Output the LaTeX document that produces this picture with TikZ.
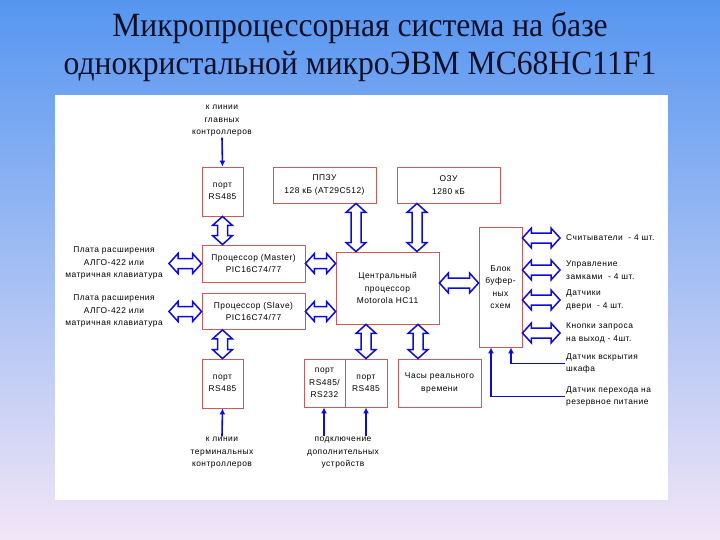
\documentclass[tikz,border=0pt]{standalone}
\usepackage{fontspec}
\setmainfont{Liberation Serif}
\newfontfamily\labfont[LetterSpace=6]{Liberation Sans}
\usetikzlibrary{calc,arrows.meta}
\definecolor{bgtop}{RGB}{86,150,240}
\definecolor{bgmid}{RGB}{160,190,243}
\definecolor{bgbot}{RGB}{242,230,246}
\definecolor{arrblue}{RGB}{12,12,215}
\definecolor{boxred}{RGB}{205,90,90}
\definecolor{titlecol}{RGB}{15,15,40}
\begin{document}
\begin{tikzpicture}[x=1pt,y=-1pt,
  lf/.style={font=\labfont\fontsize{8.4}{12.4}\selectfont},
  box/.style={lf, draw=boxred, line width=0.9pt, fill=white, inner sep=1pt, align=center},
  lab/.style={lf, align=center, inner sep=1pt},
  rlab/.style={lf, align=left, anchor=west, inner sep=1pt},
  ttl/.style={font=\fontsize{34}{40}\selectfont, text=titlecol, inner sep=0, anchor=base, xscale=0.93},
  sarrow/.style={draw=arrblue, line width=1.6pt, -{Latex[length=6pt,width=6pt]}},
  fat/.style={draw=arrblue, fill=white, line width=1.5pt, line join=miter,
    to path={let \p1=(\tikztostart), \p2=(\tikztotarget) in
      (\p1) -- ($(\p1)!9pt!(\p2)!10pt!90:(\p2)$) -- ($(\p1)!9pt!(\p2)!5pt!90:(\p2)$)
      -- ($(\p2)!9pt!(\p1)!5pt!-90:(\p1)$) -- ($(\p2)!9pt!(\p1)!10pt!-90:(\p1)$)
      -- (\p2)
      -- ($(\p2)!9pt!(\p1)!10pt!90:(\p1)$) -- ($(\p2)!9pt!(\p1)!5pt!90:(\p1)$)
      -- ($(\p1)!9pt!(\p2)!5pt!-90:(\p2)$) -- ($(\p1)!9pt!(\p2)!10pt!-90:(\p2)$) -- cycle}}]
\useasboundingbox (0,0) rectangle (720,540);
\shade[top color=bgtop, middle color=bgmid, bottom color=bgbot] (0,0) rectangle (720,540);
\fill[white] (55,95) rectangle (668,500);
% title
\node[ttl] (t1) at (360,37) {Микропроцессорная система на базе};
\node[ttl] (t2) at (360,75) {однокристальной микроЭВМ MC68HC11F1};
% boxes
\node[box, minimum width=41pt, minimum height=49pt] (portTop) at (222.5,191.5) {порт\\RS485};
\node[box, minimum width=103pt, minimum height=36pt] (ppzu) at (324.5,185) {ППЗУ\\128 кБ (AT29C512)};
\node[box, minimum width=103pt, minimum height=36pt] (ozu) at (448.5,185) {ОЗУ\\1280 кБ};
\node[box, minimum width=103pt, minimum height=37pt] (master) at (253.5,263.5) {Процессор (Master)\\PIC16C74/77};
\node[box, minimum width=103pt, minimum height=36pt] (slave) at (253.5,311.5) {Процессор (Slave)\\PIC16C74/77};
\node[box, minimum width=103pt, minimum height=72pt] (cpu) at (387.5,288) {Центральный\\процессор\\Motorola HC11};
\node[box, minimum width=43pt, minimum height=120pt] (buf) at (500.5,287) {Блок\\буфер-\\ных\\схем};
\node[box, minimum width=41pt, minimum height=49pt] (portBot) at (222.5,383.5) {порт\\RS485};
\node[box, minimum width=41pt, minimum height=48pt] (port2) at (324.5,383) {порт\\RS485/\\RS232};
\node[box, minimum width=42pt, minimum height=48pt] (port3) at (366,383) {порт\\RS485};
\node[box, minimum width=83pt, minimum height=48pt] (clock) at (439.5,383) {Часы реального\\времени};
% labels
\node[lab] (topLab) at (222,121) {к линии\\главных\\контроллеров};
\node[lab] (left1) at (114,263) {Плата расширения\\АЛГО-422 или\\матричная клавиатура};
\node[lab] (left2) at (114,311) {Плата расширения\\АЛГО-422 или\\матричная клавиатура};
\node[lab] (botLab1) at (222,453) {к линии\\терминальных\\контроллеров};
\node[lab] (botLab2) at (343,453) {подключение\\дополнительных\\устройств};
\node[rlab] (r1) at (565,238) {Считыватели\ \ - 4 шт.};
\node[rlab] (r2) at (565,270) {Управление\\замками\ \ - 4 шт.};
\node[rlab] (r3) at (565,300) {Датчики\\двери\ \ - 4 шт.};
\node[rlab] (r4) at (565,333) {Кнопки запроса\\на выход - 4шт.};
\node[rlab] (s1) at (565,363.5) {Датчик вскрытия\\шкафа};
\node[rlab] (s2) at (565,396.5) {Датчик перехода на\\резервное питание};
% helper coordinates
\coordinate (x356) at (356,0);
\coordinate (x417) at (417,0);
\coordinate (x418) at (418,0);
\coordinate (x169) at (169,0);
\coordinate (x560) at (560,0);
\coordinate (y283) at (0,283);
\coordinate (x324) at (324,0);
\coordinate (x366) at (366,0);
% fat double arrows
\draw[fat] (portTop.south) to (portTop.south |- master.north);
\draw[fat] (ppzu.south -| x356) to (cpu.north -| x356);
\draw[fat] (ozu.south -| x417) to (cpu.north -| x417);
\draw[fat] (slave.south -| portBot.north) to (portBot.north);
\draw[fat] (cpu.south -| port3.north) to (port3.north);
\draw[fat] (cpu.south -| x418) to (clock.north -| x418);
\draw[fat] (master.east) to (master.east -| cpu.west);
\draw[fat] (slave.east) to (slave.east -| cpu.west);
\draw[fat] (cpu.east |- y283) to (buf.west |- y283);
\draw[fat] (master.west -| x169) to (master.west);
\draw[fat] (slave.west -| x169) to (slave.west);
\draw[fat] (buf.east |- r1.west) to (x560 |- r1.west);
\draw[fat] (buf.east |- r2.west) to (x560 |- r2.west);
\draw[fat] (buf.east |- r3.west) to (x560 |- r3.west);
\draw[fat] (buf.east |- r4.west) to (x560 |- r4.west);
% single arrows
\draw[sarrow] (topLab.south) -- (portTop.north);
\draw[sarrow] (botLab1.north) -- (portBot.south);
\draw[sarrow] (botLab2.north -| x324) -- (port2.south -| x324);
\draw[sarrow] (botLab2.north -| x366) -- (port3.south -| x366);
\draw[sarrow] (s1.west) -| ($(buf.south)+(10.5,0)$);
\draw[sarrow] (s2.west) -| ($(buf.south)+(-9.5,0)$);
\end{tikzpicture}
\end{document}
